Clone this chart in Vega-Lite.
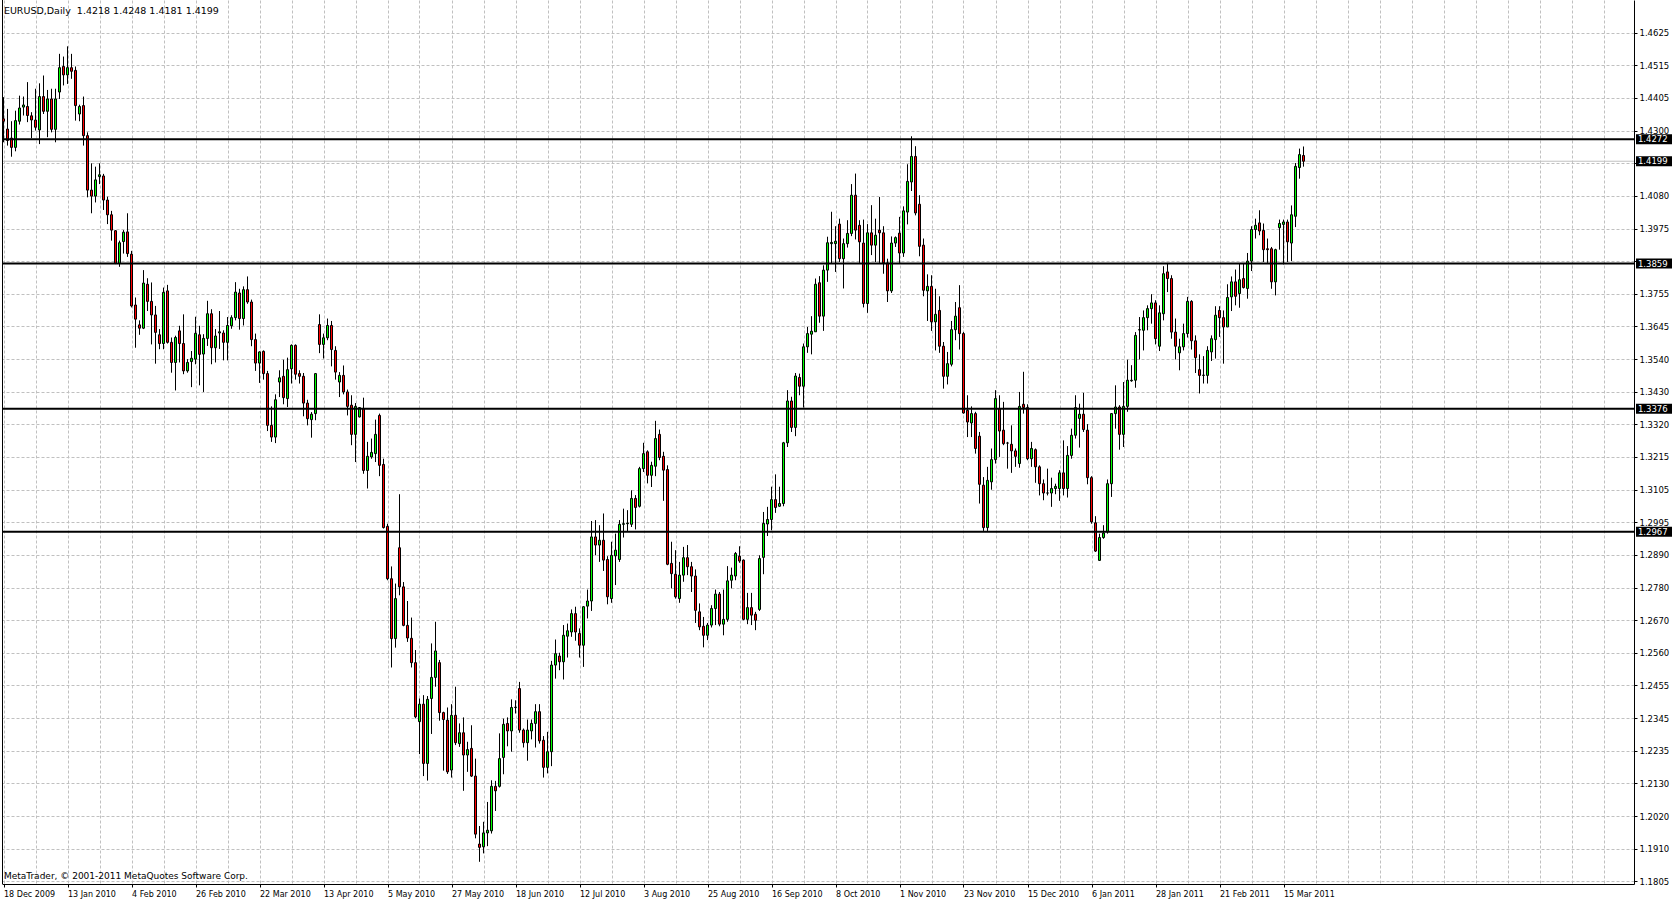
{
  "$schema": "https://vega.github.io/schema/vega-lite/v6.json",
  "width": 1632,
  "height": 884,
  "autosize": {"type": "none"},
  "padding": {"left": 2, "top": 0, "right": 38, "bottom": 17},
  "background": "white",
  "config": {"view": {"stroke": null}, "font": "DejaVu Sans", "axis": {"labelFont": "DejaVu Sans", "labelOverlap": false}, "scale": {"continuousPadding": 0}},
  "datasets": {
    "candles": [
      {"i":0,"o":1.4340,"h":1.4412,"l":1.4262,"c":1.4332},
      {"i":1,"o":1.4306,"h":1.4373,"l":1.4251,"c":1.4268},
      {"i":2,"o":1.4276,"h":1.4332,"l":1.4214,"c":1.4245},
      {"i":3,"o":1.4245,"h":1.4367,"l":1.4232,"c":1.4334},
      {"i":4,"o":1.4332,"h":1.4417,"l":1.4321,"c":1.4376},
      {"i":5,"o":1.4379,"h":1.4414,"l":1.4351,"c":1.4386},
      {"i":6,"o":1.4381,"h":1.4462,"l":1.4329,"c":1.4351},
      {"i":7,"o":1.4350,"h":1.4362,"l":1.4276,"c":1.4336},
      {"i":8,"o":1.4336,"h":1.4440,"l":1.4301,"c":1.4312},
      {"i":9,"o":1.4303,"h":1.4458,"l":1.4256,"c":1.4414},
      {"i":10,"o":1.4414,"h":1.4484,"l":1.4356,"c":1.4365},
      {"i":11,"o":1.4365,"h":1.4436,"l":1.4279,"c":1.4406},
      {"i":12,"o":1.4406,"h":1.4440,"l":1.4295,"c":1.4305},
      {"i":13,"o":1.4305,"h":1.4440,"l":1.4262,"c":1.4406},
      {"i":14,"o":1.4429,"h":1.4556,"l":1.4406,"c":1.4510},
      {"i":15,"o":1.4514,"h":1.4547,"l":1.4451,"c":1.4486},
      {"i":16,"o":1.4486,"h":1.4581,"l":1.4456,"c":1.4510},
      {"i":17,"o":1.4510,"h":1.4556,"l":1.4473,"c":1.4498},
      {"i":18,"o":1.4501,"h":1.4514,"l":1.4334,"c":1.4384},
      {"i":19,"o":1.4356,"h":1.4387,"l":1.4332,"c":1.4381},
      {"i":20,"o":1.4384,"h":1.4414,"l":1.4251,"c":1.4284},
      {"i":21,"o":1.4284,"h":1.4295,"l":1.4079,"c":1.4103},
      {"i":22,"o":1.4103,"h":1.4192,"l":1.4026,"c":1.4083},
      {"i":23,"o":1.4083,"h":1.4181,"l":1.4062,"c":1.4137},
      {"i":24,"o":1.4148,"h":1.4192,"l":1.4123,"c":1.4154},
      {"i":25,"o":1.4150,"h":1.4157,"l":1.4037,"c":1.4070},
      {"i":26,"o":1.4070,"h":1.4081,"l":1.3990,"c":1.4021},
      {"i":27,"o":1.4021,"h":1.4034,"l":1.3935,"c":1.3970},
      {"i":28,"o":1.3968,"h":1.3970,"l":1.3857,"c":1.3859},
      {"i":29,"o":1.3859,"h":1.3935,"l":1.3848,"c":1.3928},
      {"i":30,"o":1.3932,"h":1.3970,"l":1.3892,"c":1.3963},
      {"i":31,"o":1.3964,"h":1.4026,"l":1.3881,"c":1.3892},
      {"i":32,"o":1.3890,"h":1.3901,"l":1.3713,"c":1.3718},
      {"i":33,"o":1.3721,"h":1.3746,"l":1.3579,"c":1.3674},
      {"i":34,"o":1.3655,"h":1.3670,"l":1.3622,"c":1.3644},
      {"i":35,"o":1.3644,"h":1.3837,"l":1.3641,"c":1.3794},
      {"i":36,"o":1.3790,"h":1.3810,"l":1.3701,"c":1.3733},
      {"i":37,"o":1.3733,"h":1.3796,"l":1.3590,"c":1.3688},
      {"i":38,"o":1.3688,"h":1.3718,"l":1.3526,"c":1.3630},
      {"i":39,"o":1.3622,"h":1.3641,"l":1.3574,"c":1.3593},
      {"i":40,"o":1.3593,"h":1.3779,"l":1.3574,"c":1.3763},
      {"i":41,"o":1.3768,"h":1.3788,"l":1.3593,"c":1.3597},
      {"i":42,"o":1.3597,"h":1.3613,"l":1.3496,"c":1.3530},
      {"i":43,"o":1.3530,"h":1.3619,"l":1.3437,"c":1.3613},
      {"i":44,"o":1.3635,"h":1.3652,"l":1.3530,"c":1.3593},
      {"i":45,"o":1.3593,"h":1.3690,"l":1.3491,"c":1.3502},
      {"i":46,"o":1.3502,"h":1.3541,"l":1.3496,"c":1.3530},
      {"i":47,"o":1.3533,"h":1.3568,"l":1.3448,"c":1.3544},
      {"i":48,"o":1.3541,"h":1.3682,"l":1.3524,"c":1.3627},
      {"i":49,"o":1.3622,"h":1.3652,"l":1.3454,"c":1.3557},
      {"i":50,"o":1.3558,"h":1.3624,"l":1.3432,"c":1.3610},
      {"i":51,"o":1.3610,"h":1.3735,"l":1.3585,"c":1.3692},
      {"i":52,"o":1.3692,"h":1.3707,"l":1.3524,"c":1.3579},
      {"i":53,"o":1.3579,"h":1.3641,"l":1.3530,"c":1.3618},
      {"i":54,"o":1.3628,"h":1.3701,"l":1.3575,"c":1.3632},
      {"i":55,"o":1.3628,"h":1.3637,"l":1.3537,"c":1.3597},
      {"i":56,"o":1.3597,"h":1.3681,"l":1.3537,"c":1.3653},
      {"i":57,"o":1.3652,"h":1.3687,"l":1.3642,"c":1.3679},
      {"i":58,"o":1.3679,"h":1.3797,"l":1.3670,"c":1.3764},
      {"i":59,"o":1.3761,"h":1.3775,"l":1.3639,"c":1.3676},
      {"i":60,"o":1.3676,"h":1.3783,"l":1.3653,"c":1.3772},
      {"i":61,"o":1.3772,"h":1.3816,"l":1.3725,"c":1.3731},
      {"i":62,"o":1.3731,"h":1.3739,"l":1.3584,"c":1.3606},
      {"i":63,"o":1.3606,"h":1.3626,"l":1.3502,"c":1.3528},
      {"i":64,"o":1.3528,"h":1.3567,"l":1.3462,"c":1.3565},
      {"i":65,"o":1.3567,"h":1.3570,"l":1.3473,"c":1.3493},
      {"i":66,"o":1.3493,"h":1.3502,"l":1.3302,"c":1.3321},
      {"i":67,"o":1.3321,"h":1.3384,"l":1.3266,"c":1.3282},
      {"i":68,"o":1.3282,"h":1.3424,"l":1.3262,"c":1.3406},
      {"i":69,"o":1.3465,"h":1.3504,"l":1.3415,"c":1.3479},
      {"i":70,"o":1.3484,"h":1.3539,"l":1.3391,"c":1.3413},
      {"i":71,"o":1.3410,"h":1.3546,"l":1.3382,"c":1.3506},
      {"i":72,"o":1.3509,"h":1.3590,"l":1.3460,"c":1.3587},
      {"i":73,"o":1.3587,"h":1.3590,"l":1.3473,"c":1.3491},
      {"i":74,"o":1.3493,"h":1.3504,"l":1.3460,"c":1.3484},
      {"i":75,"o":1.3484,"h":1.3495,"l":1.3351,"c":1.3395},
      {"i":76,"o":1.3395,"h":1.3406,"l":1.3321,"c":1.3343},
      {"i":77,"o":1.3340,"h":1.3365,"l":1.3280,"c":1.3358},
      {"i":78,"o":1.3360,"h":1.3495,"l":1.3338,"c":1.3493},
      {"i":79,"o":1.3656,"h":1.3690,"l":1.3561,"c":1.3590},
      {"i":80,"o":1.3590,"h":1.3626,"l":1.3543,"c":1.3612},
      {"i":81,"o":1.3612,"h":1.3676,"l":1.3604,"c":1.3653},
      {"i":82,"o":1.3653,"h":1.3668,"l":1.3517,"c":1.3573},
      {"i":83,"o":1.3570,"h":1.3584,"l":1.3473,"c":1.3498},
      {"i":84,"o":1.3465,"h":1.3498,"l":1.3415,"c":1.3487},
      {"i":85,"o":1.3487,"h":1.3520,"l":1.3424,"c":1.3432},
      {"i":86,"o":1.3432,"h":1.3440,"l":1.3354,"c":1.3384},
      {"i":87,"o":1.3388,"h":1.3421,"l":1.3255,"c":1.3291},
      {"i":88,"o":1.3291,"h":1.3395,"l":1.3199,"c":1.3384},
      {"i":89,"o":1.3349,"h":1.3382,"l":1.3347,"c":1.3380},
      {"i":90,"o":1.3376,"h":1.3413,"l":1.3160,"c":1.3171},
      {"i":91,"o":1.3171,"h":1.3266,"l":1.3111,"c":1.3218},
      {"i":92,"o":1.3216,"h":1.3277,"l":1.3210,"c":1.3231},
      {"i":93,"o":1.3227,"h":1.3340,"l":1.3199,"c":1.3291},
      {"i":94,"o":1.3354,"h":1.3360,"l":1.3152,"c":1.3188},
      {"i":95,"o":1.3191,"h":1.3210,"l":1.2978,"c":1.2981},
      {"i":96,"o":1.2985,"h":1.2994,"l":1.2806,"c":1.2811},
      {"i":97,"o":1.2811,"h":1.2852,"l":1.2516,"c":1.2612},
      {"i":98,"o":1.2612,"h":1.2795,"l":1.2582,"c":1.2745},
      {"i":99,"o":1.2914,"h":1.3092,"l":1.2756,"c":1.2784},
      {"i":100,"o":1.2784,"h":1.2800,"l":1.2653,"c":1.2656},
      {"i":101,"o":1.2656,"h":1.2737,"l":1.2601,"c":1.2614},
      {"i":102,"o":1.2613,"h":1.2682,"l":1.2516,"c":1.2532},
      {"i":103,"o":1.2532,"h":1.2574,"l":1.2347,"c":1.2352},
      {"i":104,"o":1.2336,"h":1.2413,"l":1.2228,"c":1.2394},
      {"i":105,"o":1.2394,"h":1.2424,"l":1.2155,"c":1.2197},
      {"i":106,"o":1.2197,"h":1.2421,"l":1.2140,"c":1.2410},
      {"i":107,"o":1.2413,"h":1.2596,"l":1.2295,"c":1.2483},
      {"i":108,"o":1.2483,"h":1.2668,"l":1.2452,"c":1.2571},
      {"i":109,"o":1.2532,"h":1.2541,"l":1.2339,"c":1.2366},
      {"i":110,"o":1.2366,"h":1.2369,"l":1.2173,"c":1.2343},
      {"i":111,"o":1.2341,"h":1.2383,"l":1.2162,"c":1.2169},
      {"i":112,"o":1.2175,"h":1.2394,"l":1.2150,"c":1.2357},
      {"i":113,"o":1.2357,"h":1.2452,"l":1.2258,"c":1.2266},
      {"i":114,"o":1.2263,"h":1.2330,"l":1.2252,"c":1.2299},
      {"i":115,"o":1.2299,"h":1.2350,"l":1.2106,"c":1.2225},
      {"i":116,"o":1.2225,"h":1.2269,"l":1.2169,"c":1.2243},
      {"i":117,"o":1.2247,"h":1.2324,"l":1.2152,"c":1.2155},
      {"i":118,"o":1.2155,"h":1.2213,"l":1.1948,"c":1.1962},
      {"i":119,"o":1.1929,"h":1.1989,"l":1.1870,"c":1.1918},
      {"i":120,"o":1.1920,"h":1.2003,"l":1.1898,"c":1.1966},
      {"i":121,"o":1.1966,"h":1.2069,"l":1.1922,"c":1.1975},
      {"i":122,"o":1.1973,"h":1.2141,"l":1.1964,"c":1.2121},
      {"i":123,"o":1.2121,"h":1.2139,"l":1.2039,"c":1.2106},
      {"i":124,"o":1.2121,"h":1.2297,"l":1.2117,"c":1.2213},
      {"i":125,"o":1.2217,"h":1.2346,"l":1.2161,"c":1.2327},
      {"i":126,"o":1.2330,"h":1.2350,"l":1.2254,"c":1.2305},
      {"i":127,"o":1.2305,"h":1.2410,"l":1.2236,"c":1.2383},
      {"i":128,"o":1.2383,"h":1.2407,"l":1.2363,"c":1.2384},
      {"i":129,"o":1.2446,"h":1.2468,"l":1.2299,"c":1.2308},
      {"i":130,"o":1.2308,"h":1.2313,"l":1.2250,"c":1.2266},
      {"i":131,"o":1.2266,"h":1.2343,"l":1.2206,"c":1.2308},
      {"i":132,"o":1.2305,"h":1.2343,"l":1.2277,"c":1.2330},
      {"i":133,"o":1.2330,"h":1.2394,"l":1.2250,"c":1.2369},
      {"i":134,"o":1.2369,"h":1.2394,"l":1.2263,"c":1.2272},
      {"i":135,"o":1.2274,"h":1.2288,"l":1.2150,"c":1.2184},
      {"i":136,"o":1.2184,"h":1.2302,"l":1.2164,"c":1.2236},
      {"i":137,"o":1.2236,"h":1.2538,"l":1.2188,"c":1.2524},
      {"i":138,"o":1.2524,"h":1.2609,"l":1.2479,"c":1.2562},
      {"i":139,"o":1.2554,"h":1.2565,"l":1.2507,"c":1.2535},
      {"i":140,"o":1.2535,"h":1.2657,"l":1.2476,"c":1.2623},
      {"i":141,"o":1.2620,"h":1.2662,"l":1.2549,"c":1.2638},
      {"i":142,"o":1.2634,"h":1.2709,"l":1.2618,"c":1.2695},
      {"i":143,"o":1.2695,"h":1.2718,"l":1.2605,"c":1.2634},
      {"i":144,"o":1.2629,"h":1.2646,"l":1.2549,"c":1.2590},
      {"i":145,"o":1.2590,"h":1.2720,"l":1.2518,"c":1.2718},
      {"i":146,"o":1.2720,"h":1.2775,"l":1.2679,"c":1.2737},
      {"i":147,"o":1.2737,"h":1.3003,"l":1.2704,"c":1.2950},
      {"i":148,"o":1.2950,"h":1.3006,"l":1.2889,"c":1.2923},
      {"i":149,"o":1.2923,"h":1.2989,"l":1.2867,"c":1.2939},
      {"i":150,"o":1.2939,"h":1.3028,"l":1.2837,"c":1.2873},
      {"i":151,"o":1.2875,"h":1.2886,"l":1.2726,"c":1.2751},
      {"i":152,"o":1.2745,"h":1.2934,"l":1.2731,"c":1.2889},
      {"i":153,"o":1.2887,"h":1.2961,"l":1.2790,"c":1.2906},
      {"i":154,"o":1.2875,"h":1.3006,"l":1.2867,"c":1.2992},
      {"i":155,"o":1.2992,"h":1.3044,"l":1.2948,"c":1.2994},
      {"i":156,"o":1.2994,"h":1.3039,"l":1.2967,"c":1.2996},
      {"i":157,"o":1.2992,"h":1.3105,"l":1.2983,"c":1.3078},
      {"i":158,"o":1.3078,"h":1.3089,"l":1.2975,"c":1.3048},
      {"i":159,"o":1.3052,"h":1.3183,"l":1.3048,"c":1.3177},
      {"i":160,"o":1.3177,"h":1.3263,"l":1.3166,"c":1.3227},
      {"i":161,"o":1.3233,"h":1.3238,"l":1.3128,"c":1.3155},
      {"i":162,"o":1.3155,"h":1.3200,"l":1.3116,"c":1.3188},
      {"i":163,"o":1.3185,"h":1.3336,"l":1.3152,"c":1.3277},
      {"i":164,"o":1.3291,"h":1.3307,"l":1.3205,"c":1.3214},
      {"i":165,"o":1.3218,"h":1.3233,"l":1.3070,"c":1.3172},
      {"i":166,"o":1.3174,"h":1.3188,"l":1.2856,"c":1.2859},
      {"i":167,"o":1.2862,"h":1.2934,"l":1.2779,"c":1.2828},
      {"i":168,"o":1.2826,"h":1.2906,"l":1.2745,"c":1.2751},
      {"i":169,"o":1.2745,"h":1.2867,"l":1.2731,"c":1.2823},
      {"i":170,"o":1.2823,"h":1.2917,"l":1.2801,"c":1.2881},
      {"i":171,"o":1.2881,"h":1.2923,"l":1.2823,"c":1.2851},
      {"i":172,"o":1.2851,"h":1.2867,"l":1.2767,"c":1.2820},
      {"i":173,"o":1.2820,"h":1.2842,"l":1.2664,"c":1.2706},
      {"i":174,"o":1.2701,"h":1.2729,"l":1.2640,"c":1.2651},
      {"i":175,"o":1.2653,"h":1.2684,"l":1.2583,"c":1.2623},
      {"i":176,"o":1.2623,"h":1.2664,"l":1.2607,"c":1.2657},
      {"i":177,"o":1.2657,"h":1.2723,"l":1.2649,"c":1.2712},
      {"i":178,"o":1.2712,"h":1.2775,"l":1.2657,"c":1.2760},
      {"i":179,"o":1.2760,"h":1.2767,"l":1.2653,"c":1.2660},
      {"i":180,"o":1.2660,"h":1.2775,"l":1.2623,"c":1.2676},
      {"i":181,"o":1.2676,"h":1.2853,"l":1.2668,"c":1.2804},
      {"i":182,"o":1.2806,"h":1.2848,"l":1.2779,"c":1.2823},
      {"i":183,"o":1.2820,"h":1.2900,"l":1.2806,"c":1.2895},
      {"i":184,"o":1.2886,"h":1.2919,"l":1.2864,"c":1.2870},
      {"i":185,"o":1.2873,"h":1.2875,"l":1.2673,"c":1.2676},
      {"i":186,"o":1.2676,"h":1.2764,"l":1.2660,"c":1.2715},
      {"i":187,"o":1.2715,"h":1.2764,"l":1.2657,"c":1.2690},
      {"i":188,"o":1.2693,"h":1.2701,"l":1.2640,"c":1.2673},
      {"i":189,"o":1.2709,"h":1.2889,"l":1.2704,"c":1.2878},
      {"i":190,"o":1.2882,"h":1.3033,"l":1.2826,"c":1.2995},
      {"i":191,"o":1.2993,"h":1.3050,"l":1.2953,"c":1.3008},
      {"i":192,"o":1.3008,"h":1.3117,"l":1.2972,"c":1.3074},
      {"i":193,"o":1.3074,"h":1.3158,"l":1.3030,"c":1.3048},
      {"i":194,"o":1.3052,"h":1.3117,"l":1.3050,"c":1.3061},
      {"i":195,"o":1.3061,"h":1.3266,"l":1.3052,"c":1.3263},
      {"i":196,"o":1.3263,"h":1.3438,"l":1.3249,"c":1.3402},
      {"i":197,"o":1.3402,"h":1.3416,"l":1.3299,"c":1.3314},
      {"i":198,"o":1.3314,"h":1.3495,"l":1.3285,"c":1.3485},
      {"i":199,"o":1.3480,"h":1.3493,"l":1.3421,"c":1.3451},
      {"i":200,"o":1.3451,"h":1.3593,"l":1.3380,"c":1.3582},
      {"i":201,"o":1.3582,"h":1.3648,"l":1.3562,"c":1.3626},
      {"i":202,"o":1.3624,"h":1.3684,"l":1.3557,"c":1.3634},
      {"i":203,"o":1.3632,"h":1.3809,"l":1.3632,"c":1.3790},
      {"i":204,"o":1.3795,"h":1.3817,"l":1.3662,"c":1.3684},
      {"i":205,"o":1.3684,"h":1.3853,"l":1.3635,"c":1.3837},
      {"i":206,"o":1.3837,"h":1.3948,"l":1.3798,"c":1.3928},
      {"i":207,"o":1.3925,"h":1.4031,"l":1.3859,"c":1.3929},
      {"i":208,"o":1.3925,"h":1.3983,"l":1.3831,"c":1.3933},
      {"i":209,"o":1.3990,"h":1.4008,"l":1.3864,"c":1.3875},
      {"i":210,"o":1.3875,"h":1.3942,"l":1.3776,"c":1.3925},
      {"i":211,"o":1.3925,"h":1.4003,"l":1.3912,"c":1.3959},
      {"i":212,"o":1.3959,"h":1.4123,"l":1.3950,"c":1.4086},
      {"i":213,"o":1.4086,"h":1.4158,"l":1.3939,"c":1.3970},
      {"i":214,"o":1.3986,"h":1.4003,"l":1.3861,"c":1.3931},
      {"i":215,"o":1.3927,"h":1.4005,"l":1.3713,"c":1.3726},
      {"i":216,"o":1.3726,"h":1.3990,"l":1.3695,"c":1.3961},
      {"i":217,"o":1.3961,"h":1.4053,"l":1.3887,"c":1.3920},
      {"i":218,"o":1.3920,"h":1.4008,"l":1.3864,"c":1.3953},
      {"i":219,"o":1.3970,"h":1.4080,"l":1.3861,"c":1.3961},
      {"i":220,"o":1.3961,"h":1.3983,"l":1.3825,"c":1.3861},
      {"i":221,"o":1.3861,"h":1.3875,"l":1.3731,"c":1.3768},
      {"i":222,"o":1.3768,"h":1.3949,"l":1.3761,"c":1.3927},
      {"i":223,"o":1.3927,"h":1.3949,"l":1.3914,"c":1.3945},
      {"i":224,"o":1.3960,"h":1.4014,"l":1.3861,"c":1.3894},
      {"i":225,"o":1.3894,"h":1.4049,"l":1.3881,"c":1.4034},
      {"i":226,"o":1.4030,"h":1.4189,"l":1.3989,"c":1.4132},
      {"i":227,"o":1.4130,"h":1.4282,"l":1.4100,"c":1.4215},
      {"i":228,"o":1.4215,"h":1.4249,"l":1.4019,"c":1.4027},
      {"i":229,"o":1.4056,"h":1.4086,"l":1.3883,"c":1.3916},
      {"i":230,"o":1.3920,"h":1.3942,"l":1.3750,"c":1.3770},
      {"i":231,"o":1.3768,"h":1.3823,"l":1.3668,"c":1.3783},
      {"i":232,"o":1.3783,"h":1.3820,"l":1.3635,"c":1.3665},
      {"i":233,"o":1.3665,"h":1.3775,"l":1.3570,"c":1.3690},
      {"i":234,"o":1.3703,"h":1.3750,"l":1.3562,"c":1.3584},
      {"i":235,"o":1.3584,"h":1.3598,"l":1.3443,"c":1.3484},
      {"i":236,"o":1.3484,"h":1.3565,"l":1.3457,"c":1.3526},
      {"i":237,"o":1.3524,"h":1.3668,"l":1.3517,"c":1.3639},
      {"i":238,"o":1.3639,"h":1.3731,"l":1.3604,"c":1.3684},
      {"i":239,"o":1.3712,"h":1.3787,"l":1.3573,"c":1.3626},
      {"i":240,"o":1.3626,"h":1.3631,"l":1.3360,"c":1.3362},
      {"i":241,"o":1.3371,"h":1.3421,"l":1.3282,"c":1.3332},
      {"i":242,"o":1.3329,"h":1.3384,"l":1.3282,"c":1.3360},
      {"i":243,"o":1.3360,"h":1.3366,"l":1.3227,"c":1.3244},
      {"i":244,"o":1.3285,"h":1.3299,"l":1.3061,"c":1.3125},
      {"i":245,"o":1.3122,"h":1.3149,"l":1.2970,"c":1.2981},
      {"i":246,"o":1.2981,"h":1.3183,"l":1.2970,"c":1.3138},
      {"i":247,"o":1.3133,"h":1.3244,"l":1.3107,"c":1.3207},
      {"i":248,"o":1.3207,"h":1.3438,"l":1.3194,"c":1.3410},
      {"i":249,"o":1.3377,"h":1.3421,"l":1.3216,"c":1.3302},
      {"i":250,"o":1.3305,"h":1.3399,"l":1.3255,"c":1.3260},
      {"i":251,"o":1.3262,"h":1.3266,"l":1.3177,"c":1.3262},
      {"i":252,"o":1.3258,"h":1.3321,"l":1.3163,"c":1.3236},
      {"i":253,"o":1.3236,"h":1.3244,"l":1.3183,"c":1.3218},
      {"i":254,"o":1.3194,"h":1.3432,"l":1.3180,"c":1.3384},
      {"i":255,"o":1.3391,"h":1.3499,"l":1.3360,"c":1.3380},
      {"i":256,"o":1.3380,"h":1.3391,"l":1.3205,"c":1.3210},
      {"i":257,"o":1.3210,"h":1.3266,"l":1.3183,"c":1.3244},
      {"i":258,"o":1.3240,"h":1.3244,"l":1.3130,"c":1.3183},
      {"i":259,"o":1.3183,"h":1.3188,"l":1.3088,"c":1.3127},
      {"i":260,"o":1.3127,"h":1.3141,"l":1.3072,"c":1.3096},
      {"i":261,"o":1.3096,"h":1.3177,"l":1.3088,"c":1.3096},
      {"i":262,"o":1.3096,"h":1.3147,"l":1.3050,"c":1.3111},
      {"i":263,"o":1.3111,"h":1.3127,"l":1.3092,"c":1.3118},
      {"i":264,"o":1.3111,"h":1.3172,"l":1.3070,"c":1.3163},
      {"i":265,"o":1.3163,"h":1.3271,"l":1.3088,"c":1.3111},
      {"i":266,"o":1.3111,"h":1.3252,"l":1.3081,"c":1.3221},
      {"i":267,"o":1.3221,"h":1.3310,"l":1.3210,"c":1.3288},
      {"i":268,"o":1.3288,"h":1.3421,"l":1.3277,"c":1.3380},
      {"i":269,"o":1.3344,"h":1.3393,"l":1.3247,"c":1.3358},
      {"i":270,"o":1.3358,"h":1.3429,"l":1.3299,"c":1.3307},
      {"i":271,"o":1.3305,"h":1.3325,"l":1.3125,"c":1.3147},
      {"i":272,"o":1.3147,"h":1.3152,"l":1.2994,"c":1.3000},
      {"i":273,"o":1.2997,"h":1.3019,"l":1.2900,"c":1.2903},
      {"i":274,"o":1.2872,"h":1.2961,"l":1.2870,"c":1.2948},
      {"i":275,"o":1.2948,"h":1.2989,"l":1.2944,"c":1.2963},
      {"i":276,"o":1.2967,"h":1.3141,"l":1.2961,"c":1.3127},
      {"i":277,"o":1.3127,"h":1.3362,"l":1.3083,"c":1.3360},
      {"i":278,"o":1.3360,"h":1.3454,"l":1.3310,"c":1.3382},
      {"i":279,"o":1.3382,"h":1.3388,"l":1.3240,"c":1.3291},
      {"i":280,"o":1.3291,"h":1.3465,"l":1.3249,"c":1.3384},
      {"i":281,"o":1.3384,"h":1.3539,"l":1.3366,"c":1.3471},
      {"i":282,"o":1.3469,"h":1.3521,"l":1.3466,"c":1.3471},
      {"i":283,"o":1.3471,"h":1.3631,"l":1.3446,"c":1.3620},
      {"i":284,"o":1.3638,"h":1.3681,"l":1.3540,"c":1.3639},
      {"i":285,"o":1.3637,"h":1.3703,"l":1.3570,"c":1.3679},
      {"i":286,"o":1.3679,"h":1.3720,"l":1.3637,"c":1.3709},
      {"i":287,"o":1.3709,"h":1.3757,"l":1.3659,"c":1.3728},
      {"i":288,"o":1.3728,"h":1.3737,"l":1.3590,"c":1.3609},
      {"i":289,"o":1.3584,"h":1.3720,"l":1.3568,"c":1.3695},
      {"i":290,"o":1.3692,"h":1.3850,"l":1.3670,"c":1.3825},
      {"i":291,"o":1.3831,"h":1.3861,"l":1.3764,"c":1.3809},
      {"i":292,"o":1.3809,"h":1.3820,"l":1.3609,"c":1.3631},
      {"i":293,"o":1.3631,"h":1.3676,"l":1.3540,"c":1.3584},
      {"i":294,"o":1.3562,"h":1.3609,"l":1.3504,"c":1.3582},
      {"i":295,"o":1.3582,"h":1.3659,"l":1.3570,"c":1.3626},
      {"i":296,"o":1.3626,"h":1.3748,"l":1.3613,"c":1.3733},
      {"i":297,"o":1.3733,"h":1.3737,"l":1.3573,"c":1.3602},
      {"i":298,"o":1.3602,"h":1.3620,"l":1.3495,"c":1.3546},
      {"i":299,"o":1.3506,"h":1.3557,"l":1.3427,"c":1.3487},
      {"i":300,"o":1.3487,"h":1.3551,"l":1.3460,"c":1.3488},
      {"i":301,"o":1.3487,"h":1.3584,"l":1.3460,"c":1.3570},
      {"i":302,"o":1.3565,"h":1.3620,"l":1.3535,"c":1.3609},
      {"i":303,"o":1.3606,"h":1.3717,"l":1.3543,"c":1.3687},
      {"i":304,"o":1.3703,"h":1.3717,"l":1.3615,"c":1.3679},
      {"i":305,"o":1.3679,"h":1.3703,"l":1.3526,"c":1.3648},
      {"i":306,"o":1.3648,"h":1.3790,"l":1.3648,"c":1.3746},
      {"i":307,"o":1.3748,"h":1.3816,"l":1.3701,"c":1.3798},
      {"i":308,"o":1.3798,"h":1.3839,"l":1.3720,"c":1.3750},
      {"i":309,"o":1.3759,"h":1.3859,"l":1.3712,"c":1.3805},
      {"i":310,"o":1.3809,"h":1.3859,"l":1.3776,"c":1.3779},
      {"i":311,"o":1.3776,"h":1.3894,"l":1.3742,"c":1.3867},
      {"i":312,"o":1.3867,"h":1.3983,"l":1.3834,"c":1.3972},
      {"i":313,"o":1.3972,"h":1.4008,"l":1.3942,"c":1.3986},
      {"i":314,"o":1.3994,"h":1.4036,"l":1.3953,"c":1.3967},
      {"i":315,"o":1.3969,"h":1.3992,"l":1.3864,"c":1.3905},
      {"i":316,"o":1.3908,"h":1.3942,"l":1.3861,"c":1.3905},
      {"i":317,"o":1.3908,"h":1.3914,"l":1.3775,"c":1.3798},
      {"i":318,"o":1.3798,"h":1.3908,"l":1.3753,"c":1.3905},
      {"i":319,"o":1.3978,"h":1.4005,"l":1.3905,"c":1.3992},
      {"i":320,"o":1.3989,"h":1.4005,"l":1.3856,"c":1.3997},
      {"i":321,"o":1.3997,"h":1.4005,"l":1.3864,"c":1.3931},
      {"i":322,"o":1.3927,"h":1.4052,"l":1.3867,"c":1.4021},
      {"i":323,"o":1.4016,"h":1.4193,"l":1.3980,"c":1.4182},
      {"i":324,"o":1.4178,"h":1.4241,"l":1.4141,"c":1.4221},
      {"i":325,"o":1.4218,"h":1.4248,"l":1.4181,"c":1.4199}
    ],
    "levels": [{"v": 1.4272}, {"v": 1.3859}, {"v": 1.3376}, {"v": 1.2967}],
    "bid": [{"v": 1.4199}],
    "tags": [{"v": 1.4272}, {"v": 1.4199}, {"v": 1.3859}, {"v": 1.3376}, {"v": 1.2967}]
  },
  "layer": [
    {
      "data": {"name": "bid"},
      "mark": {"type": "rule", "color": "#c0c0c0", "strokeWidth": 1},
      "encoding": {
        "x": {
          "datum": -0.375, "type": "quantitative",
          "scale": {"domain": [-0.375, 407.625], "nice": false, "zero": false, "padding": 0},
          "axis": {
            "title": null,
            "values": [0,8,16,24,32,40,48,56,64,72,80,88,96,104,112,120,128,136,144,152,160,168,176,184,192,200,208,216,224,232,240,248,256,264,272,280,288,296,304,312,320,328,336,344,352,360,368,376,384,392,400],
            "tickCount": 200,
            "grid": true, "gridColor": "#c0c0c0", "gridDash": [3, 2], "gridWidth": 1,
            "domain": true, "domainColor": "black", "domainWidth": 1,
            "ticks": true, "tickColor": "black", "tickSize": 3, "tickWidth": 1,
            "tickOpacity": {"condition": {"test": "datum.value % 16 == 0 && datum.value <= 320", "value": 1}, "value": 0},
            "labelExpr": "(datum.value % 16 == 0 && datum.value <= 320) ? ['18 Dec 2009','13 Jan 2010','4 Feb 2010','26 Feb 2010','22 Mar 2010','13 Apr 2010','5 May 2010','27 May 2010','18 Jun 2010','12 Jul 2010','3 Aug 2010','25 Aug 2010','16 Sep 2010','8 Oct 2010','1 Nov 2010','23 Nov 2010','15 Dec 2010','6 Jan 2011','28 Jan 2011','21 Feb 2011','15 Mar 2011'][datum.value / 16] : ''",
            "labelAlign": "left", "labelBaseline": "top", "labelPadding": 3, "labelOffset": 0,
            "labelFontSize": 8, "labelColor": "black", "labelOverlap": false, "labelFlush": false
          }
        },
        "x2": {"datum": 407.625},
        "y": {
          "field": "v", "type": "quantitative",
          "scale": {"domain": [1.17962, 1.4735], "nice": false, "zero": false, "padding": 0},
          "axis": {
            "title": null, "orient": "right",
            "values": [1.180525,1.191375,1.202225,1.213075,1.223925,1.234775,1.245625,1.256475,1.267325,1.278175,1.289025,1.299875,1.310725,1.321575,1.332425,1.343275,1.354125,1.364975,1.375825,1.386675,1.397525,1.408375,1.419225,1.430075,1.440925,1.451775,1.462625],
            "tickCount": 200,
            "grid": true, "gridColor": "#c0c0c0", "gridDash": [3, 2], "gridWidth": 1,
            "domain": true, "domainColor": "black", "domainWidth": 1,
            "ticks": true, "tickColor": "black", "tickSize": 3,
            "labelExpr": "(abs(datum.value - 1.419225) < 0.000001 || abs(datum.value - 1.386675) < 0.000001) ? '' : format(floor(datum.value * 2000 + 0.0001) / 2000, '.4f')",
            "labelFontSize": 8.5, "labelColor": "black", "labelPadding": 2,
            "labelOverlap": false, "labelFlush": false, "labelBaseline": "middle"
          }
        }
      }
    },
    {
      "data": {"values": [{}]},
      "mark": {"type": "rule", "color": "black", "strokeWidth": 1},
      "encoding": {"x": {"datum": -0.25, "type": "quantitative"}}
    },
    {
      "data": {"name": "candles"},
      "mark": {"type": "rule", "color": "black", "strokeWidth": 1},
      "encoding": {
        "x": {"field": "i", "type": "quantitative"},
        "y": {"field": "l", "type": "quantitative"},
        "y2": {"field": "h"}
      }
    },
    {
      "data": {"name": "candles"},
      "mark": {"type": "bar", "width": 2, "stroke": "black", "strokeWidth": 1},
      "encoding": {
        "x": {"field": "i", "type": "quantitative"},
        "y": {"field": "o", "type": "quantitative"},
        "y2": {"field": "c"},
        "color": {"condition": {"test": "datum.c >= datum.o", "value": "#00ff00"}, "value": "#ff0000"}
      }
    },
    {
      "data": {"name": "levels"},
      "mark": {"type": "rule", "color": "black", "strokeWidth": 2},
      "encoding": {"y": {"field": "v", "type": "quantitative"}}
    },
    {
      "data": {"name": "tags"},
      "mark": {"type": "bar", "height": 10, "color": "black", "orient": "horizontal"},
      "encoding": {
        "x": {"datum": 408.125, "type": "quantitative"},
        "x2": {"datum": 417.125},
        "y": {"field": "v", "type": "quantitative"}
      }
    },
    {
      "data": {"name": "tags"},
      "mark": {"type": "text", "align": "left", "baseline": "middle", "color": "white", "fontSize": 8.5, "font": "DejaVu Sans"},
      "encoding": {
        "x": {"datum": 408.6, "type": "quantitative"},
        "y": {"field": "v", "type": "quantitative"},
        "text": {"field": "v", "type": "quantitative", "format": ".4f"}
      }
    },
    {
      "data": {"values": [{}]},
      "mark": {"type": "text", "align": "left", "baseline": "middle", "color": "black", "fontSize": 9.5, "font": "DejaVu Sans"},
      "encoding": {
        "x": {"datum": 0.1, "type": "quantitative"},
        "y": {"datum": 1.4700, "type": "quantitative"},
        "text": {"value": "EURUSD,Daily\u00a0\u00a01.4218 1.4248 1.4181 1.4199"}
      }
    },
    {
      "data": {"values": [{}]},
      "mark": {"type": "text", "align": "left", "baseline": "middle", "color": "black", "fontSize": 9, "font": "DejaVu Sans"},
      "encoding": {
        "x": {"datum": 0.1, "type": "quantitative"},
        "y": {"datum": 1.1823, "type": "quantitative"},
        "text": {"value": "MetaTrader, © 2001-2011 MetaQuotes Software Corp."}
      }
    }
  ]
}
